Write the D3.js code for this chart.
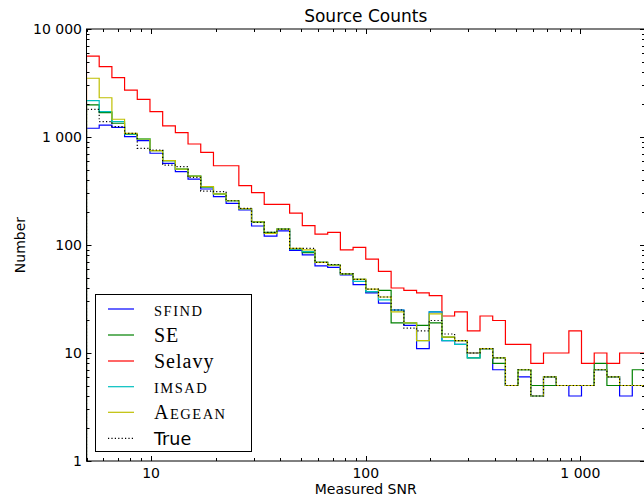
<!DOCTYPE html>
<html><head><meta charset="utf-8">
<script src="https://cdn.jsdelivr.net/npm/d3@7"></script>
<style>body{margin:0;background:#fff}</style>
</head><body><svg id="c" width="644" height="498"></svg>
<script>
// Bin edges (log-spaced, 44 bins from 5 to 2000)
const binEdges = [5.000,5.730,6.566,7.522,8.620,9.878,11.32,12.97,14.86,17.03,19.52,22.36,25.63,29.37,33.65,38.56,44.19,50.63,58.01,66.48,76.18,87.30,100.0,114.6,131.3,150.5,172.5,197.6,226.4,259.4,297.3,340.7,390.4,447.4,512.6,587.4,673.1,771.3,883.8,1012,1160,1329,1523,1745,2000];

const sfind  = [1205,1290,1230,1006,925,707,571,477,408,330,280,243,211,150,121,135,89,81,64,62,53,43,36,29,25,18,11,24,13,12,10,11,7,5,6,4,6,5,4,5,7,6,4,5];
const se     = [1980,1680,1340,1060,958,747,604,505,435,344,297,257,217,164,131,140,92,85,69,65,54,48,37,38,19,19,18,19,14,13,9,11,8,5,7,5,5,5,5,5,8,5,5,7];
const selavy = [5620,4480,3540,2720,2230,1715,1265,1096,861,722,542,542,354,305,238,238,197,151,126,131,90,95,74,57,40,38,36,34,22,24,16,22,20,12,12,8,10,10,16,8,10,8,10,10];
const imsad  = [2170,1720,1390,1070,960,750,604,505,435,345,297,257,217,164,128,140,92,87,69,65,54,46,37,31,25,19,13,24,13,12,9,11,9,5,7,4,6,5,5,5,7,6,5,5];
const aegean = [3500,2310,1460,1080,958,747,604,505,435,347,297,257,217,164,128,140,93,90,69,65,54,48,39,33,24,19,13,23,14,13,10,11,9,5,7,4,6,5,5,5,7,6,5,5];
const trueCounts = [1800,1390,1250,1080,786,758,550,531,422,316,312,257,218,162,131,140,93,93,69,66,54,48,39,33,25,17,16,20,15,13,10,11,9,5,7,4,6,5,5,5,7,6,5,5];

const xTickValues = [10,100,1000];
const xTickLabels = ["10","100","1 000"];
const yTickValues = [1,10,100,1000,10000];
const yTickLabels = ["1","10","100","1 000","10 000"];

const seriesList = [
  {name:"SFIND", data:sfind, color:"#0000ff", dash:null},
  {name:"SE", data:se, color:"#008000", dash:null},
  {name:"Selavy", data:selavy, color:"#ff0000", dash:null},
  {name:"IMSAD", data:imsad, color:"#00bfbf", dash:null},
  {name:"AEGEAN", data:aegean, color:"#bfbf00", dash:null},
  {name:"True", data:trueCounts, color:"#000000", dash:"1.2,2.2"}
];

const L=86.5, R=645, T=29, B=461;
const svg = d3.select("#c");
const x = d3.scaleLog().domain([5,2000]).range([L,R]);
const y = d3.scaleLog().domain([1,10000]).range([B,T]);

svg.append("defs").append("clipPath").attr("id","clip")
  .append("rect").attr("x",L).attr("y",T).attr("width",R-L).attr("height",B-T);

// series
const g = svg.append("g").attr("clip-path","url(#clip)");
const line = d3.line().x(d=>x(d[0])).y(d=>y(d[1])).curve(d3.curveStepAfter);
seriesList.forEach(s=>{
  const pts = [[binEdges[0], 1e-3]];
  s.data.forEach((v,i)=>pts.push([binEdges[i], v]));
  pts.push([binEdges[binEdges.length-1], s.data[s.data.length-1]]);
  pts.push([binEdges[binEdges.length-1], 1e-3]);
  g.append("path").attr("d", line(pts)).attr("fill","none")
    .attr("stroke", s.color).attr("stroke-width",1.2)
    .attr("stroke-dasharray", s.dash);
});

// frame
svg.append("rect").attr("x",L).attr("y",T).attr("width",R-L).attr("height",B-T)
  .attr("fill","none").attr("stroke","#000").attr("stroke-width",1);

// ticks
const tk = svg.append("g").attr("stroke","#000").attr("stroke-width",1);
const xMinor = x.ticks().filter(v=>!xTickValues.includes(v));
const yMinor = y.ticks().filter(v=>!yTickValues.includes(v));
function xt(v,len){ const px=Math.round(x(v))+0.5;
  tk.append("line").attr("x1",px).attr("x2",px).attr("y1",B).attr("y2",B-len);
  tk.append("line").attr("x1",px).attr("x2",px).attr("y1",T).attr("y2",T+len); }
function yt(v,len){ const py=Math.round(y(v))+0.5;
  tk.append("line").attr("x1",L).attr("x2",L+len).attr("y1",py).attr("y2",py);
  tk.append("line").attr("x1",R).attr("x2",R-len).attr("y1",py).attr("y2",py); }
xTickValues.forEach(v=>xt(v,5)); xMinor.forEach(v=>xt(v,3));
yTickValues.forEach(v=>yt(v,5)); yMinor.forEach(v=>yt(v,3));

const font = "DejaVu Sans";
xTickValues.forEach((v,i)=>svg.append("text").attr("x",x(v)).attr("y",478)
  .attr("text-anchor","middle").attr("font-family",font).attr("font-size",14).text(xTickLabels[i]));
yTickValues.forEach((v,i)=>svg.append("text").attr("x",82).attr("y",y(v)+5)
  .attr("text-anchor","end").attr("font-family",font).attr("font-size",14).text(yTickLabels[i]));

svg.append("text").attr("x",(L+R)/2).attr("y",22).attr("text-anchor","middle")
  .attr("font-family",font).attr("font-size",17).text("Source Counts");
svg.append("text").attr("x",(L+R)/2).attr("y",494).attr("text-anchor","middle")
  .attr("font-family",font).attr("font-size",14).text("Measured SNR");
svg.append("text").attr("transform","translate(25,245) rotate(-90)").attr("text-anchor","middle")
  .attr("font-family",font).attr("font-size",14).text("Number");

// legend
const lg = svg.append("g");
lg.append("rect").attr("x",95.5).attr("y",294.5).attr("width",156).attr("height",157)
  .attr("fill","#fff").attr("stroke","#000").attr("stroke-width",1);
const rowY = [309,335,361,386.7,412.3,438.3];
seriesList.forEach((s,i)=>{
  lg.append("line").attr("x1",108).attr("x2",134).attr("y1",rowY[i]).attr("y2",rowY[i])
    .attr("stroke",s.color).attr("stroke-width",1.2).attr("stroke-dasharray",s.dash);
  const t = lg.append("text").attr("x",154).attr("y",rowY[i]+6.5);
  if (s.name==="True") {
    t.attr("font-family",font).attr("font-size",17.5).text(s.name);
  } else if (s.name==="SE" || s.name==="Selavy") {
    t.attr("font-family","Liberation Serif").attr("font-size",20).attr("letter-spacing",1).text(s.name);
  } else if (s.name==="AEGEAN") {
    t.attr("font-family","Liberation Serif").attr("letter-spacing",1.5);
    t.append("tspan").attr("font-size",20).text("A");
    t.append("tspan").attr("font-size",14.5).text("EGEAN");
  } else {
    t.attr("font-family","Liberation Serif").attr("font-size",14.5).attr("letter-spacing",1.5).text(s.name);
  }
});
</script></body></html>
